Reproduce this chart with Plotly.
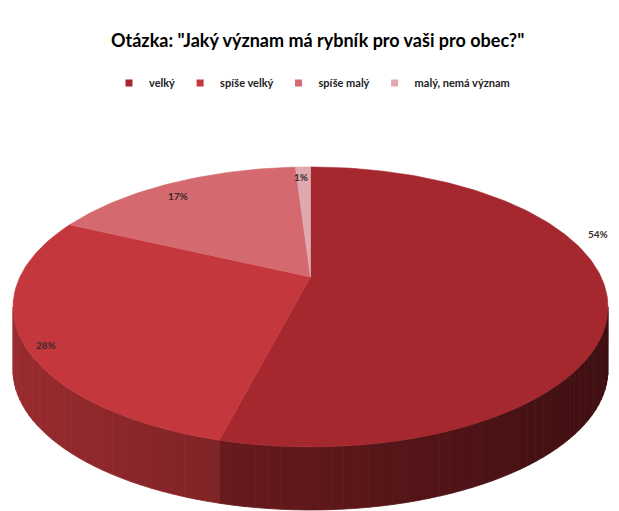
import math
import plotly.graph_objects as go

# ---- data ----
categories = ["velký", "spíše velký", "spíše malý", "malý, nemá význam"]
values = [54, 28, 17, 1]
value_labels = ["54%", "28%", "17%", "1%"]
title_text = 'Otázka: "Jaký význam má rybník pro vaši pro obec?"'

# ---- style ----
top_colors = ["#A4282E", "#C4373C", "#D4696F", "#E0A9B0"]
label_r = [1.0, 0.92, 0.9, 0.9]
label_off = [(-9, -60), (0, 11), (-6, 5), (-3, 1)]

W, H = 619, 511
CX, CY = 310.5, 277.0
A, B, K = 290.6, 133.6, 0.214
DEPTH = 63.0


def proj(theta_deg, r=1.0, drop=0.0):
    t = math.radians(theta_deg)
    u = r * math.sin(t)
    v = r * math.cos(t)
    w = 1 + K * v
    return CX + A * u / w, CY - B * v / w + drop


def hex_scale(hx, f):
    hx = hx.lstrip("#")
    rgb = [int(hx[i:i + 2], 16) for i in (0, 2, 4)]
    rgb = [max(0, min(255, int(round(c * f)))) for c in rgb]
    return "#%02x%02x%02x" % tuple(rgb)


def light(x):
    return 0.79 - 0.00067 * x


total = float(sum(values))
bounds = [0.0]
for v in values:
    bounds.append(bounds[-1] + v / total * 360.0)

theta_right = 90 + math.degrees(math.asin(K))
theta_left = 360 - theta_right

fig = go.Figure()

# ---- sides (front arc only) ----
for i, (a0, a1) in enumerate(zip(bounds[:-1], bounds[1:])):
    s0, s1 = max(a0, theta_right), min(a1, theta_left)
    if s1 <= s0:
        continue
    n = max(1, int(math.ceil((s1 - s0) / 2.0)))
    step = (s1 - s0) / n
    for j in range(n):
        t0 = s0 + j * step
        t1 = t0 + step
        ts = [t0 + (t1 - t0) * k / 4 for k in range(5)]
        top = [proj(t) for t in ts]
        bot = [proj(t, drop=DEPTH) for t in reversed(ts)]
        pts = top + bot + [top[0]]
        xm = proj((t0 + t1) / 2)[0]
        col = hex_scale(top_colors[i], light(xm))
        fig.add_trace(go.Scatter(
            x=[p[0] for p in pts], y=[p[1] for p in pts],
            mode="lines", fill="toself", fillcolor=col,
            line=dict(color=col, width=0.8),
            hoverinfo="skip", showlegend=False))

# ---- top surface ----
for i, (a0, a1) in enumerate(zip(bounds[:-1], bounds[1:])):
    n = max(4, int(math.ceil((a1 - a0) / 1.0)))
    ts = [a0 + (a1 - a0) * k / n for k in range(n + 1)]
    pts = [proj(0, 0)] + [proj(t) for t in ts] + [proj(0, 0)]
    fig.add_trace(go.Scatter(
        x=[p[0] for p in pts], y=[p[1] for p in pts],
        mode="lines", fill="toself", fillcolor=top_colors[i],
        line=dict(color=top_colors[i], width=0.6),
        name=categories[i], hoverinfo="name", showlegend=False))

# ---- legend entries ----
for i, c in enumerate(categories):
    fig.add_trace(go.Scatter(
        x=[None], y=[None], mode="markers",
        marker=dict(symbol="square", size=7, color=top_colors[i]),
        name="<b>%s</b>" % c, showlegend=True))

# ---- labels ----
for i, (a0, a1) in enumerate(zip(bounds[:-1], bounds[1:])):
    mx, my = proj((a0 + a1) / 2, label_r[i])
    fig.add_annotation(
        x=mx + label_off[i][0], y=my + label_off[i][1], xref="x", yref="y",
        text="<b>%s</b>" % value_labels[i], showarrow=False,
        font=dict(family="Lato", size=10, color="#3a2a2a"))

fig.add_annotation(
    x=317 / W, y=1 - 40 / H, xref="paper", yref="paper",
    xanchor="center", yanchor="middle",
    text="<b>%s</b>" % title_text, showarrow=False,
    font=dict(family="Lato", size=18, color="#000000"))

fig.update_layout(
    width=W, height=H,
    margin=dict(l=0, r=0, t=0, b=0),
    paper_bgcolor="white", plot_bgcolor="white",
    xaxis=dict(range=[0, W], visible=False, fixedrange=True),
    yaxis=dict(range=[H, 0], visible=False, fixedrange=True),
    legend=dict(orientation="h", x=312 / W, xanchor="center",
                y=1 - 83 / H, yanchor="middle",
                font=dict(family="Lato", size=11, color="#222222"),
                itemwidth=30, tracegroupgap=0, traceorder="normal"),
    showlegend=True,
)

fig.write_html("out.html", config={"displayModeBar": False},
               post_script="document.body.style.margin='0';")
